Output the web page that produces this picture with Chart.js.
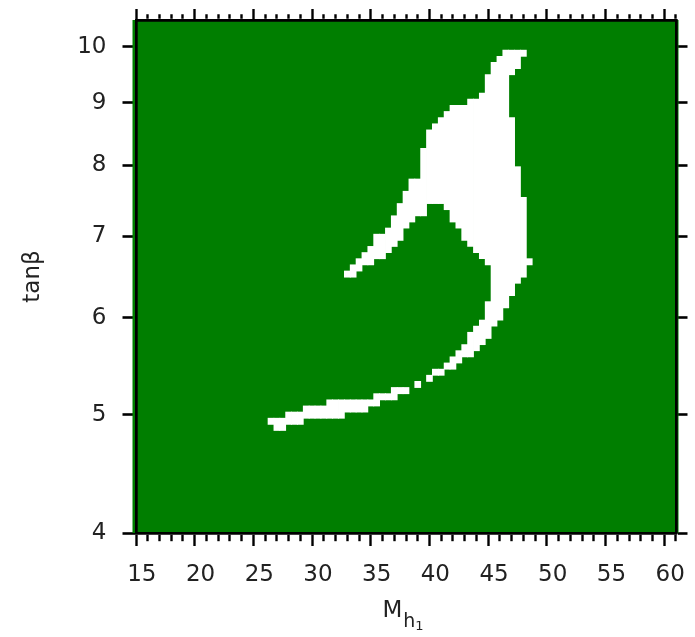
<!DOCTYPE html>
<html>
<head>
<meta charset="utf-8">
<script src="https://cdn.jsdelivr.net/npm/chart.js@4.4.1/dist/chart.umd.min.js"></script>
<style>
  html, body { margin: 0; padding: 0; background: #ffffff; }
  canvas { display: block; }
</style>
</head>
<body>
<canvas id="scan" width="695" height="637"></canvas>
<script>
// Scan columns in M_h1 (GeV), one white strip per column and stretch.
const mH1 = [26, 26.5, 27, 27.5, 28, 28.5, 29, 29.5, 30, 30.5, 31, 31.5, 32, 32.5, 33, 33.5,
             34, 34.5, 35, 35.5, 36, 36.5, 37, 37.5, 38, 38.5, 39, 39.5, 40, 40.5, 41, 41.5,
             42, 42.5, 43, 43.5, 44, 44.5, 45, 45.5, 46, 46.5, 47, 47.5, 48];

// Lower stretch: the long tail plus the right-hand body, [tanβ from, tanβ to]
const lowerStretch = [
  [4.909, 4.966], [4.853, 4.966], [4.853, 4.966], [4.909, 5.024], [4.909, 5.024], [4.909, 5.024],
  [4.966, 5.082], [4.966, 5.082], [4.966, 5.082], [4.966, 5.082], [4.966, 5.141], [4.966, 5.141],
  [4.966, 5.141], [5.024, 5.141], [5.024, 5.141], [5.024, 5.141], [5.024, 5.141], [5.082, 5.141],
  [5.082, 5.201], [5.141, 5.201], [5.141, 5.201], [5.141, 5.262], [5.201, 5.262], [5.201, 5.262],
  null,           [5.262, 5.323], null,           [5.323, 5.385], [5.385, 5.447], [5.385, 5.447],
  [5.447, 5.511], [5.447, 5.575], [5.511, 5.640], [5.575, 5.705], [5.575, 5.839], [5.640, 5.907],
  [5.705, 5.975], [5.772, 6.186], [5.907, 9.711], [5.975, 9.824], [6.115, 9.938], [6.258, 8.751],
  [6.405, 7.978], [6.479, 7.530], [6.631, 6.708]
];

// Upper stretch: the arm reaching down-left and the top of the body
const upperStretch = [
  null, null, null, null, null, null, null, null, null, null, null, null, null,
  [6.479, 6.554], [6.479, 6.631], [6.554, 6.708], [6.631, 6.786], [6.631, 6.865],
  [6.708, 7.025], [6.708, 7.025], [6.786, 7.107], [6.865, 7.273], [6.944, 7.443], [7.107, 7.617],
  [7.189, 7.795], [7.273, 7.795], [7.273, 8.259], [7.443, 8.551], [7.443, 8.650], [7.443, 8.751],
  [7.358, 8.853], [7.189, 8.956], [7.107, 8.956], [6.944, 8.956], [6.865, 9.060], [6.786, 9.060],
  [6.708, 9.165], [6.631, 9.489], null, null, null, [9.489, 9.938],
  [9.599, 9.938], [9.824, 9.938], null
];

const tanbTicks = [4, 5, 6, 7, 8, 9, 10];
const massRange = [15, 60];
const tanbRange = [4, 10.52];
const massLabelStep = 5;

const PLOT_GREEN = 'rgb(0,126,0)';
const TEXT = '#222222';
const FONT = 'DejaVu Sans';

function columnBars(stretch) {
  const out = [];
  mH1.forEach((m, i) => { if (stretch[i]) out.push({ x: m, y: stretch[i] }); });
  return out;
}

const isMajor = (ctx) => ctx.tick && Math.abs(ctx.tick.value % massLabelStep) < 1e-9;

// fixed axis box sizes; label overhang must not shrink the plot field
function fixBox(size) {
  return (s) => {
    if (s.isHorizontal()) s.height = size; else s.width = size;
    s.paddingLeft = 0; s.paddingRight = 0; s.paddingTop = 0; s.paddingBottom = 0;
  };
}

// green plot field, drawn after the tick marks and before the strips
const plotField = {
  id: 'plotField',
  beforeDatasetsDraw(chart) {
    const { ctx, chartArea: a } = chart;
    ctx.save();
    ctx.fillStyle = PLOT_GREEN;
    ctx.fillRect(a.left - 3.5, a.top, a.right - a.left + 6, a.bottom - a.top);
    ctx.restore();
  }
};

// x-axis title with nested subscripts: M_{h_1}
const massTitle = {
  id: 'massTitle',
  afterDraw(chart) {
    const { ctx, chartArea: a } = chart;
    const cx = (a.left + a.right) / 2 - 3;
    const base = a.bottom + 84;
    ctx.save();
    ctx.fillStyle = TEXT;
    ctx.textBaseline = 'alphabetic';
    ctx.textAlign = 'left';
    const parts = [
      { t: 'M', size: 23, dy: 0, gap: 1 },
      { t: 'h', size: 19, dy: 10, gap: 0 },
      { t: '1', size: 13, dy: 13, gap: 0 }
    ];
    let total = 0;
    parts.forEach(p => { ctx.font = p.size + 'px "' + FONT + '"'; p.w = ctx.measureText(p.t).width + p.gap; total += p.w; });
    let x = cx - total / 2;
    parts.forEach(p => {
      ctx.font = p.size + 'px "' + FONT + '"';
      ctx.fillText(p.t, x, base + p.dy);
      x += p.w;
    });
    ctx.restore();
  }
};

const tickFont = { family: FONT, size: 23 };
const frame = { display: true, color: '#000000', width: 2.7, z: 1 };

new Chart(document.getElementById('scan'), {
  type: 'bar',
  data: {
    datasets: [
      { label: 'lower', data: columnBars(lowerStretch), xAxisID: 'x', yAxisID: 'y',
        backgroundColor: '#ffffff', borderWidth: 0, barPercentage: 1, categoryPercentage: 1,
        grouped: false, inflateAmount: 0.4 },
      { label: 'upper', data: columnBars(upperStretch), xAxisID: 'x', yAxisID: 'y',
        backgroundColor: '#ffffff', borderWidth: 0, barPercentage: 1, categoryPercentage: 1,
        grouped: false, inflateAmount: 0.4 }
    ]
  },
  options: {
    responsive: false,
    animation: false,
    events: [],
    layout: { padding: 0 },
    plugins: { legend: { display: false }, tooltip: { enabled: false } },
    scales: {
      x: {
        type: 'linear', position: 'bottom', min: massRange[0], max: massRange[1],
        ticks: {
          stepSize: 1, maxTicksLimit: 200, autoSkip: false, maxRotation: 0, minRotation: 0,
          color: TEXT, font: tickFont, padding: 15,
          callback: (v) => (Math.abs(v % massLabelStep) < 1e-9 ? String(v) : '')
        },
        grid: {
          drawOnChartArea: false, drawTicks: true, tickLength: 13, tickWidth: 2.4, tickColor: '#000',
          tickBorderDash: (ctx) => (isMajor(ctx) ? [] : [6.5, 100])
        },
        border: frame,
        afterFit: fixBox(104)
      },
      xTop: {
        type: 'linear', position: 'top', min: massRange[0], max: massRange[1],
        ticks: { display: false, stepSize: 1, maxTicksLimit: 200, autoSkip: false },
        grid: {
          drawOnChartArea: false, drawTicks: true, tickLength: 11, tickWidth: 2.4, tickColor: '#000',
          tickBorderDash: (ctx) => (isMajor(ctx) ? [] : [0, 5.3, 4.4, 100])
        },
        border: frame,
        afterFit: fixBox(20)
      },
      y: {
        type: 'logarithmic', position: 'left', min: tanbRange[0], max: tanbRange[1],
        afterBuildTicks: (axis) => { axis.ticks = tanbTicks.map(v => ({ value: v })); },
        ticks: { color: TEXT, font: tickFont, padding: 16, callback: (v) => String(v) },
        grid: { drawOnChartArea: false, drawTicks: true, tickLength: 13.5, tickWidth: 2.6, tickColor: '#000' },
        border: frame,
        title: { display: true, text: 'tanβ', color: TEXT, font: { family: FONT, size: 23 }, padding: { top: 19, bottom: 0 } },
        afterFit: fixBox(136)
      },
      yRight: {
        type: 'logarithmic', position: 'right', min: tanbRange[0], max: tanbRange[1],
        afterBuildTicks: (axis) => { axis.ticks = tanbTicks.map(v => ({ value: v })); },
        ticks: { display: false },
        grid: { drawOnChartArea: false, drawTicks: true, tickLength: 11.5, tickWidth: 2.6, tickColor: '#000' },
        border: frame,
        afterFit: fixBox(19)
      }
    }
  },
  plugins: [plotField, massTitle]
});
</script>
</body>
</html>
